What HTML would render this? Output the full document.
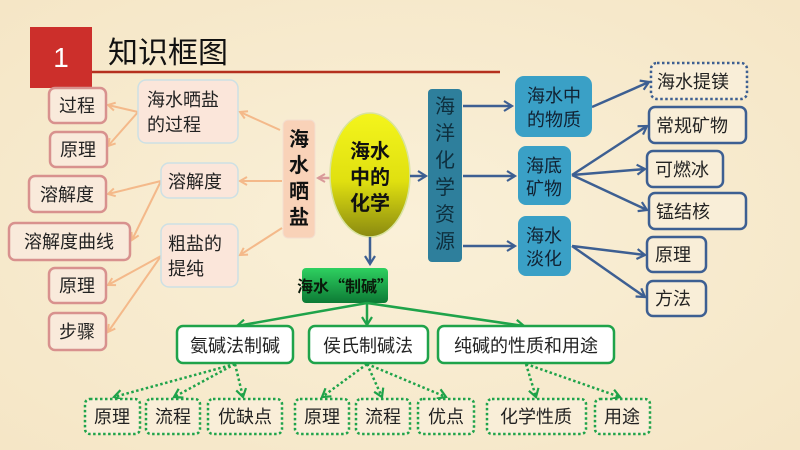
<!DOCTYPE html>
<html><head><meta charset="utf-8"><style>
html,body{margin:0;padding:0;width:800px;height:450px;overflow:hidden;background:#f8ecd2}
svg{display:block}
text{font-family:"Liberation Sans","Noto Sans CJK SC",sans-serif}
text.cjk{font-family:"Noto Sans CJK SC",sans-serif}
</style></head><body>
<svg width="800" height="450" viewBox="0 0 800 450" xmlns="http://www.w3.org/2000/svg">
<defs>
<radialGradient id="bg" cx="50%" cy="50%" r="70%"><stop offset="0" stop-color="#faf0d8"/><stop offset="1" stop-color="#f5e6c6"/></radialGradient>
<linearGradient id="ell" x1="0" y1="0" x2="0" y2="1"><stop offset="0" stop-color="#f4f51c"/><stop offset="0.55" stop-color="#e0e010"/><stop offset="1" stop-color="#8a8a10"/></linearGradient>
<linearGradient id="grn" x1="0" y1="0" x2="0" y2="1"><stop offset="0" stop-color="#2ed060"/><stop offset="1" stop-color="#0d7a35"/></linearGradient>
<marker id="ao" markerWidth="10" markerHeight="10" refX="8" refY="5" orient="auto" markerUnits="userSpaceOnUse"><path d="M1,1 L8,5 L1,9" fill="none" stroke="#f4b98a" stroke-width="2"/></marker>
<marker id="ap" markerWidth="10" markerHeight="10" refX="8" refY="5" orient="auto" markerUnits="userSpaceOnUse"><path d="M1,1 L8,5 L1,9" fill="none" stroke="#d99a9a" stroke-width="2"/></marker>
<marker id="ab" markerWidth="12" markerHeight="12" refX="9" refY="6" orient="auto" markerUnits="userSpaceOnUse"><path d="M1,1 L9,6 L1,11" fill="none" stroke="#3d5f92" stroke-width="2.2"/></marker>
<marker id="ag" markerWidth="12" markerHeight="12" refX="9" refY="6" orient="auto" markerUnits="userSpaceOnUse"><path d="M1,1 L9,6 L1,11" fill="none" stroke="#1fa34a" stroke-width="2.2"/></marker>
</defs>
<rect width="800" height="450" fill="url(#bg)"/>
<!-- title -->
<rect x="30" y="27" width="62" height="61" fill="#cc2f2b"/>
<text x="61" y="67" font-size="28" fill="#fff" text-anchor="middle">1</text>
<line x1="92" y1="72" x2="500" y2="72" stroke="#b5301e" stroke-width="2.5"/>
<text x="108" y="63" font-size="30" fill="#111">知识框图</text>

<!-- orange connectors -->
<g stroke="#f4b98a" stroke-width="2" fill="none" marker-end="url(#ao)">
<line x1="280" y1="130" x2="240" y2="112"/>
<line x1="282" y1="181" x2="240" y2="181"/>
<line x1="282" y1="228" x2="240" y2="255"/>
<line x1="138" y1="112" x2="108" y2="105"/>
<line x1="138" y1="112" x2="108" y2="146"/>
<line x1="161" y1="181" x2="108" y2="194"/>
<line x1="161" y1="181" x2="132" y2="240"/>
<line x1="161" y1="256" x2="108" y2="285"/>
<line x1="161" y1="256" x2="108" y2="332"/>
</g>
<line x1="330" y1="178" x2="318" y2="178" stroke="#d99a9a" stroke-width="2.5" marker-end="url(#ap)"/>

<!-- left nodes -->
<g fill="#f9eadb" stroke="#d8918e" stroke-width="2.5">
<rect x="49" y="88" width="57" height="35" rx="6"/>
<rect x="50" y="132" width="57" height="35" rx="6"/>
<rect x="29" y="176" width="77" height="36" rx="6"/>
<rect x="9" y="223" width="121" height="37" rx="6"/>
<rect x="49" y="268" width="57" height="35" rx="6"/>
<rect x="49" y="313" width="57" height="37" rx="6"/>
</g>
<g font-size="18" fill="#222" text-anchor="middle">
<text x="77" y="112">过程</text>
<text x="78" y="156">原理</text>
<text x="67" y="201">溶解度</text>
<text x="69" y="248">溶解度曲线</text>
<text x="77" y="292">原理</text>
<text x="77" y="338">步骤</text>
</g>
<g fill="#fbe6da" stroke="#cde0e4" stroke-width="1.5">
<rect x="138" y="80" width="100" height="63" rx="8"/>
<rect x="161" y="163" width="77" height="35" rx="8"/>
<rect x="161" y="224" width="77" height="63" rx="8"/>
</g>
<g font-size="18" fill="#222">
<text x="147" y="106">海水晒盐</text>
<text x="147" y="131">的过程</text>
<text x="168" y="188">溶解度</text>
<text x="168" y="250">粗盐的</text>
<text x="168" y="275">提纯</text>
</g>
<rect x="283" y="120" width="32" height="118" rx="5" fill="#f9d2b8" stroke="#f3dfd0" stroke-width="1"/>
<g font-size="20" font-weight="bold" fill="#111" text-anchor="middle">
<text x="299" y="146">海</text><text x="299" y="172">水</text><text x="299" y="198">晒</text><text x="299" y="224">盐</text>
</g>

<!-- ellipse -->
<ellipse cx="370" cy="175" rx="40" ry="62" fill="url(#ell)" stroke="#d8e3a0" stroke-width="1.5"/>
<g font-size="20" font-weight="bold" fill="#111" text-anchor="middle">
<text x="370" y="158">海水</text><text x="370" y="184">中的</text><text x="370" y="210">化学</text>
</g>
<line x1="370" y1="237" x2="370" y2="264" stroke="#3d5f92" stroke-width="2.5" marker-end="url(#ab)"/>
<line x1="410" y1="176" x2="426" y2="176" stroke="#3d5f92" stroke-width="2.5" marker-end="url(#ab)"/>

<!-- ocean resource -->
<rect x="428" y="89" width="34" height="173" rx="4" fill="#2e7f9c"/>
<g font-size="20" fill="#0e2f3e" text-anchor="middle">
<text x="445" y="113">海</text><text x="445" y="140">洋</text><text x="445" y="167">化</text><text x="445" y="194">学</text><text x="445" y="221">资</text><text x="445" y="248">源</text>
</g>
<g stroke="#3d5f92" stroke-width="2.5" fill="none" marker-end="url(#ab)">
<line x1="463" y1="106" x2="512" y2="106"/>
<line x1="463" y1="176" x2="515" y2="176"/>
<line x1="463" y1="246" x2="515" y2="246"/>
<line x1="592" y1="107" x2="649" y2="82"/>
<line x1="572" y1="175" x2="647" y2="126"/>
<line x1="572" y1="175" x2="645" y2="169"/>
<line x1="572" y1="175" x2="647" y2="210"/>
<line x1="572" y1="246" x2="645" y2="255"/>
<line x1="572" y1="246" x2="645" y2="297"/>
</g>
<g fill="#3aa0c6">
<rect x="515" y="76" width="77" height="61" rx="9"/>
<rect x="518" y="146" width="53" height="59" rx="8"/>
<rect x="518" y="216" width="53" height="60" rx="8"/>
</g>
<g font-size="18" fill="#123" text-anchor="middle">
<text x="554" y="102">海水中</text><text x="554" y="126">的物质</text>
<text x="544" y="172">海底</text><text x="544" y="195">矿物</text>
<text x="544" y="242">海水</text><text x="544" y="265">淡化</text>
</g>
<rect x="651" y="63" width="96" height="36" rx="6" fill="#f9eed8" stroke="#3d5f92" stroke-width="2.5" stroke-dasharray="2.5 2.5"/>
<g fill="#f9eed8" stroke="#3d5f92" stroke-width="2.5">
<rect x="649" y="107" width="97" height="36" rx="6"/>
<rect x="647" y="151" width="76" height="36" rx="6"/>
<rect x="649" y="193" width="97" height="36" rx="6"/>
<rect x="647" y="237" width="59" height="35" rx="6"/>
<rect x="647" y="281" width="59" height="35" rx="6"/>
</g>
<g font-size="18" fill="#222">
<text x="657" y="88">海水提镁</text>
<text x="656" y="132">常规矿物</text>
<text x="655" y="176">可燃冰</text>
<text x="656" y="218">锰结核</text>
<text x="655" y="261">原理</text>
<text x="655" y="305">方法</text>
</g>

<!-- soda -->
<rect x="302" y="268" width="86" height="35" rx="4" fill="url(#grn)"/>
<text class="cjk" x="345" y="292" font-size="16" font-weight="bold" fill="#0a1a0a" text-anchor="middle">海水“制碱”</text>
<g stroke="#1fa34a" stroke-width="2.5" fill="none" marker-end="url(#ag)">
<line x1="367" y1="303" x2="237" y2="326"/>
<line x1="367" y1="303" x2="367" y2="325"/>
<line x1="367" y1="303" x2="524" y2="326"/>
</g>
<g fill="#fff" stroke="#1fa34a" stroke-width="2.5">
<rect x="177" y="326" width="116" height="37" rx="6"/>
<rect x="309" y="326" width="119" height="37" rx="6"/>
<rect x="438" y="326" width="176" height="37" rx="6"/>
</g>
<g font-size="18" fill="#222" text-anchor="middle">
<text x="235" y="352">氨碱法制碱</text>
<text x="368" y="352">侯氏制碱法</text>
<text x="526" y="352">纯碱的性质和用途</text>
</g>
<g stroke="#1fa34a" stroke-width="2.5" fill="none" stroke-dasharray="2.5 2.5" marker-end="url(#ag)">
<line x1="235" y1="364" x2="114" y2="397"/>
<line x1="235" y1="364" x2="174" y2="397"/>
<line x1="235" y1="364" x2="243" y2="397"/>
<line x1="367" y1="364" x2="322" y2="397"/>
<line x1="367" y1="364" x2="382" y2="397"/>
<line x1="367" y1="364" x2="446" y2="397"/>
<line x1="526" y1="364" x2="536" y2="397"/>
<line x1="526" y1="364" x2="620" y2="397"/>
</g>
<g fill="#f9eed8" stroke="#1fa34a" stroke-width="2.5" stroke-dasharray="2.5 2.5">
<rect x="85" y="399" width="55" height="35" rx="5"/>
<rect x="146" y="399" width="54" height="35" rx="5"/>
<rect x="208" y="399" width="74" height="35" rx="5"/>
<rect x="295" y="399" width="54" height="35" rx="5"/>
<rect x="356" y="399" width="54" height="35" rx="5"/>
<rect x="418" y="399" width="56" height="35" rx="5"/>
<rect x="487" y="399" width="99" height="35" rx="5"/>
<rect x="595" y="399" width="55" height="35" rx="5"/>
</g>
<g font-size="18" fill="#222" text-anchor="middle">
<text x="112" y="423">原理</text>
<text x="173" y="423">流程</text>
<text x="245" y="423">优缺点</text>
<text x="322" y="423">原理</text>
<text x="383" y="423">流程</text>
<text x="446" y="423">优点</text>
<text x="536" y="423">化学性质</text>
<text x="622" y="423">用途</text>
</g>
</svg>
</body></html>
